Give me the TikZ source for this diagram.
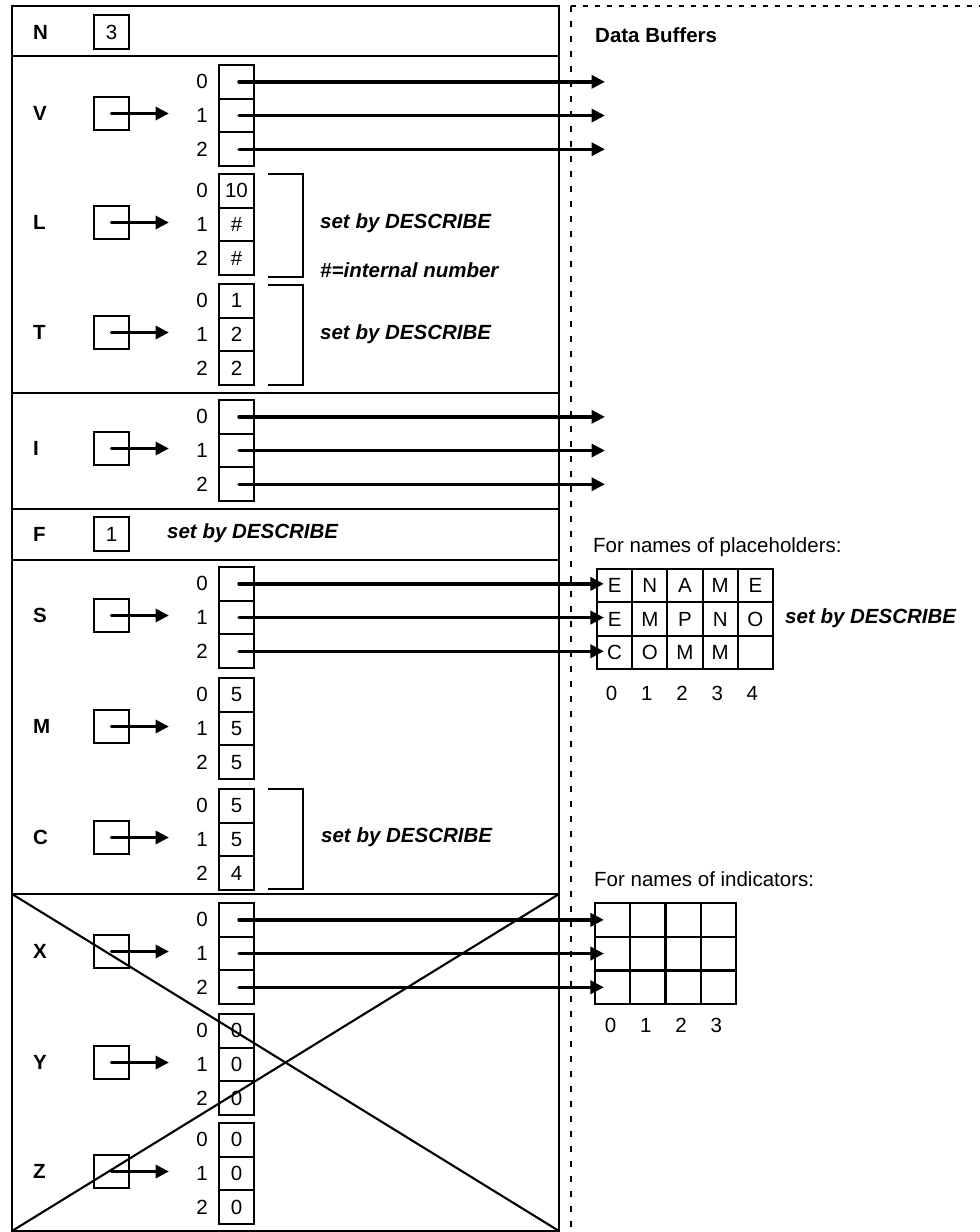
\documentclass[tikz,border=0pt]{standalone}
\usepackage{fontspec}
\setmainfont{Liberation Sans}
\usetikzlibrary{arrows.meta,calc}
\tikzset{
  txt/.style={font=\fontsize{20.5}{24}\selectfont, inner sep=0pt},
  boldtxt/.style={font=\fontsize{20.5}{24}\selectfont\bfseries, inner sep=0pt},
  notetxt/.style={font=\fontsize{20.5}{24}\selectfont\bfseries\itshape, inner sep=0pt, anchor=west},
  cellbox/.style={draw, line width=2.1pt, minimum width=35.5pt, minimum height=33.7pt, inner sep=0pt, txt},
  ptrbox/.style={draw, line width=2.1pt, minimum width=35pt, minimum height=33.5pt, inner sep=0pt, txt},
  gridcell/.style={draw, line width=2.1pt, minimum width=35.2pt, minimum height=33.4pt, inner sep=0pt, txt},
  idxlbl/.style={txt},
  letter/.style={boldtxt, anchor=west},
  frameline/.style={line width=2.1pt},
  parrow/.style={line width=3.4pt, line cap=round, -{Triangle[length=13.5pt,width=13pt]}},
  marrow/.style={line width=3.4pt, line cap=round, -{Triangle[length=13.5pt,width=13pt]}},
  vdash/.style={line width=2pt, dash pattern=on 6pt off 9pt},
  hdash/.style={line width=2pt, dash pattern=on 5pt off 7pt},
}
\newcommand\arrgrp[5]{%
  \foreach \i/\v in {0/{#3},1/{#4},2/{#5}} {%
    \node[cellbox] (#1\i) at (236.5, {#2+33.7*(\i+0.5)}) {\v};
    \node[idxlbl] (#1i\i) at (202, {#2+33.7*(\i+0.5)}) {\i};
  }%
  \node[letter] (#1lab) at (33, {#2+48.5}) {#1};
  \node[ptrbox] (#1p) at (111.5, {#2+48.5}) {};
  \coordinate (#1tip) at (169, {#2+48.5});
  \draw[parrow] (#1p.center) -- (#1tip);
}
\begin{document}
\begin{tikzpicture}[x=1pt,y=-1pt]
\useasboundingbox (0,0) rectangle (980,1232);

% main frame and separators
\draw[frameline] (12,6) rectangle (559,1231);
\foreach \yy in {56,393,509,560,894} {
  \draw[frameline] (12,\yy) -- (559,\yy);
}
% cross over X/Y/Z
\draw[frameline] (12,894) -- (559,1231);
\draw[frameline] (559,894) -- (12,1231);

% N row
\node[letter] (Nlab) at (33,32) {N};
\node[ptrbox] (Nbox) at (111.5,32) {3};

% arrays
\arrgrp{V}{65}{}{}{}
\arrgrp{L}{174}{10}{\#}{\#}
\arrgrp{T}{284}{1}{2}{2}
\arrgrp{I}{400}{}{}{}
\arrgrp{S}{567}{}{}{}
\arrgrp{M}{678}{5}{5}{5}
\arrgrp{C}{789}{5}{5}{4}
\arrgrp{X}{903}{}{}{}
\arrgrp{Y}{1014}{0}{0}{0}
\arrgrp{Z}{1123}{0}{0}{0}

% F row
\node[letter] (Flab) at (33,534) {F};
\node[ptrbox] (Fbox) at (111.5,534) {1};
\node[notetxt] (Fnote) at (167,533) {set by DESCRIBE};

% brackets and notes
\draw[frameline] (268,174) -- (303,174) -- (303,277) -- (268,277);
\draw[frameline] (268,285) -- (303,285) -- (303,385) -- (268,385);
\draw[frameline] (268,789) -- (303,789) -- (303,889) -- (268,889);
\node[notetxt] (Lnote) at (320,223) {set by DESCRIBE};
\node[notetxt] (hashnote) at (320,270) {\#=internal number};
\node[notetxt] (Tnote) at (320,334) {set by DESCRIBE};
\node[notetxt] (Cnote) at (321,837) {set by DESCRIBE};

% dashed boundary
\draw[vdash] (571,6) -- (571,1232);
\draw[hdash] (571,6) -- (980,6);
\node[boldtxt, anchor=west] (dbuf) at (595,35) {Data Buffers};

% placeholder names grid
\node[txt, anchor=west] (phtitle) at (593,547) {For names of placeholders:};
\foreach \r/\row in {0/{E,N,A,M,E},1/{E,M,P,N,O},2/{C,O,M,M,\mbox{}}} {
  \foreach \ch [count=\c from 0] in \row {
    \node[gridcell] (P\r\c) at ({597+35.2*(\c+0.5)}, {569+33.4*(\r+0.5)}) {\ch};
  }
}
\foreach \c in {0,...,4} {
  \node[txt] (Pc\c) at ({594+35.2*(\c+0.5)}, 693) {\c};
}
\node[notetxt] (Snote) at (785,618) {set by DESCRIBE};

% indicator names grid
\node[txt, anchor=west] (intitle) at (594,879) {For names of indicators:};
\foreach \r in {0,1,2} {
  \foreach \c in {0,...,3} {
    \node[gridcell] (Q\r\c) at ({595+35.25*(\c+0.5)}, {903+33.7*(\r+0.5)}) {};
  }
}
\foreach \c in {0,...,3} {
  \node[txt] (Qc\c) at ({593+35.25*(\c+0.5)}, 1025) {\c};
}

% long pointers
\foreach \g in {V,I} {
  \foreach \i in {0,1,2} {
    \coordinate (buf\g\i) at ([xshift=368.5pt]\g\i.center);
    \draw[marrow] ([xshift=2.5pt]\g\i.center) -- (buf\g\i);
  }
}
\foreach \i in {0,1,2} {
  \coordinate (tipS\i) at ($(S\i.center -| P\i0.west)+(8,0)$);
  \draw[marrow] ([xshift=2.5pt]S\i.center) -- (tipS\i);
  \coordinate (tipX\i) at ($(X\i.center -| Q\i0.west)+(10,0)$);
  \draw[marrow] ([xshift=2.5pt]X\i.center) -- (tipX\i);
}
\end{tikzpicture}
\end{document}
